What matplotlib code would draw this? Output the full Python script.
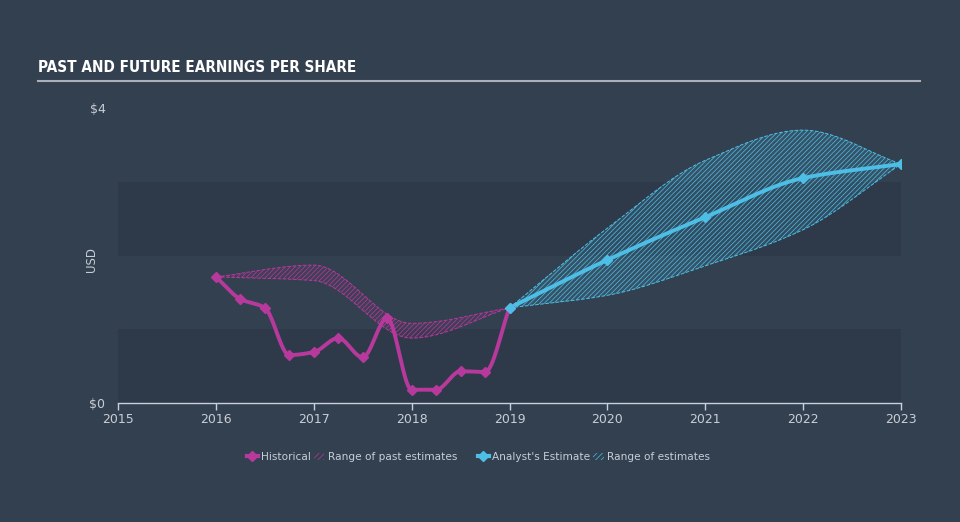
import numpy as np
import matplotlib.pyplot as plt
from matplotlib.lines import Line2D
from matplotlib.patches import Patch

# data
hist_x = [2016, 2016.25, 2016.5, 2016.75, 2017, 2017.25, 2017.5,
          2017.75, 2018, 2018.25, 2018.5, 2018.75, 2019]
hist_eps = [1.71, 1.41, 1.29, 0.65, 0.69, 0.88, 0.62,
            1.15, 0.18, 0.18, 0.43, 0.42, 1.29]
past_x = [2016, 2017, 2018, 2019]
past_hi = [1.71, 1.87, 1.08, 1.29]
past_lo = [1.71, 1.66, 0.88, 1.29]
est_x = [2019, 2020, 2021, 2022, 2023]
est_eps = [1.29, 1.94, 2.52, 3.05, 3.24]
est_hi = [1.29, 2.37, 3.29, 3.70, 3.24]
est_lo = [1.29, 1.46, 1.86, 2.35, 3.24]

BG = '#334050'
BAND = '#2e3a4a'
MAG = '#b8399c'
CYAN = '#4dbfe6'
TXT = '#c8ced6'


def smooth(xs, ys, n=40):
    # monotone cubic hermite for drawing the curves
    xs = np.asarray(xs, float); ys = np.asarray(ys, float)
    h = np.diff(xs); d = np.diff(ys) / h
    m = np.zeros_like(ys)
    m[0], m[-1] = d[0], d[-1]
    for i in range(1, len(ys) - 1):
        if d[i-1] * d[i] <= 0:
            m[i] = 0
        else:
            w1 = 2*h[i] + h[i-1]; w2 = h[i] + 2*h[i-1]
            m[i] = (w1 + w2) / (w1/d[i-1] + w2/d[i])
    X, Y = [], []
    for i in range(len(h)):
        t = np.linspace(0, 1, n, endpoint=(i == len(h)-1))
        h00 = 2*t**3 - 3*t**2 + 1; h10 = t**3 - 2*t**2 + t
        h01 = -2*t**3 + 3*t**2; h11 = t**3 - t**2
        X.append(xs[i] + t*h[i])
        Y.append(h00*ys[i] + h10*h[i]*m[i] + h01*ys[i+1] + h11*h[i]*m[i+1])
    return np.concatenate(X), np.concatenate(Y)


plt.rcParams['hatch.linewidth'] = 0.5
fig = plt.figure(figsize=(9.6, 5.22), dpi=100, facecolor=BG)
ax = fig.add_axes([118/960, 1-403/522, (901-118)/960, (403-108)/522])
ax.set_facecolor(BG)
ax.set_xlim(2015, 2023)
ax.set_ylim(0, 4)

# horizontal bands
for lo, hi in [(0, 1), (2, 3)]:
    ax.axhspan(lo, hi, color=BAND, zorder=0, lw=0)

# past estimate range
x1, h1 = smooth(past_x, past_hi)
_, l1 = smooth(past_x, past_lo)
ax.fill_between(x1, l1, h1, facecolor=(0.72, 0.22, 0.61, 0.10),
                edgecolor=MAG, hatch='///////', lw=0, zorder=2)
ax.plot(x1, h1, '--', color=MAG, lw=0.7, zorder=2)
ax.plot(x1, l1, '--', color=MAG, lw=0.7, zorder=2)

# future estimate range
x2, h2 = smooth(est_x, est_hi)
_, l2 = smooth(est_x, est_lo)
ax.fill_between(x2, l2, h2, facecolor=(0.30, 0.75, 0.90, 0.15),
                edgecolor=CYAN, hatch='///////', lw=0, zorder=2)
ax.plot(x2, h2, '--', color=CYAN, lw=0.7, zorder=2)
ax.plot(x2, l2, '--', color=CYAN, lw=0.7, zorder=2)

# historical line
xs, ys = smooth(hist_x, hist_eps, 20)
ax.plot(xs, ys, color=MAG, lw=2.8, zorder=4, solid_capstyle='round')
ax.plot(hist_x, hist_eps, 'D', color=MAG, ms=5.5, zorder=5)

# analyst line
xs, ys = smooth(est_x, est_eps)
ax.plot(xs, ys, color=CYAN, lw=2.8, zorder=4, solid_capstyle='round')
ax.plot(est_x, est_eps, 'D', color=CYAN, ms=5.5, zorder=6)

for s in ['top', 'right', 'left']:
    ax.spines[s].set_visible(False)
ax.spines['bottom'].set_color('#c8d0da')
ax.spines['bottom'].set_linewidth(1)
ax.set_xticks(range(2015, 2024))
ax.set_xticklabels([str(y) for y in range(2015, 2024)])
ax.set_yticks([0, 4])
ax.set_yticklabels(['$0', '$4'])
ax.tick_params(axis='x', colors='#c8d0da', labelcolor=TXT, labelsize=9,
               length=5, width=1, direction='out', pad=2)
ax.tick_params(axis='y', length=0, labelcolor=TXT, labelsize=9, pad=9)
fig.text(92/960, 1-260/522, 'USD', rotation=90, color=TXT, fontsize=8.5,
         ha='center', va='center')

# title
fig.text(38/960, 1-68/522, 'PAST AND FUTURE EARNINGS PER SHARE',
         family='DejaVu Sans', stretch='condensed', weight='bold',
         color='white', fontsize=11, ha='left', va='center')
fig.add_artist(Line2D([38/960, 920/960], [1-81/522, 1-81/522],
                      color='#a9b0ba', lw=1.5))

# legend, two groups
groups = [
    ([Line2D([], [], color=MAG, lw=3, marker='D', ms=5.5),
      Patch(facecolor='none', edgecolor=MAG, hatch='//////', lw=0)],
     ['Historical', 'Range of past estimates'], 352),
    ([Line2D([], [], color=CYAN, lw=3, marker='D', ms=5.5),
      Patch(facecolor='none', edgecolor=CYAN, hatch='//////', lw=0)],
     ["Analyst's Estimate", 'Range of estimates'], 594),
]
for hs, ls, cx in groups:
    leg = fig.legend(hs, ls, loc='center', ncol=2,
                     bbox_to_anchor=(cx/960, 1-457/522), frameon=False,
                     fontsize=7.6, labelcolor=TXT, handlelength=1.0,
                     handletextpad=0.3, columnspacing=0.3)

fig.savefig('out.png', dpi=100, facecolor=BG)
